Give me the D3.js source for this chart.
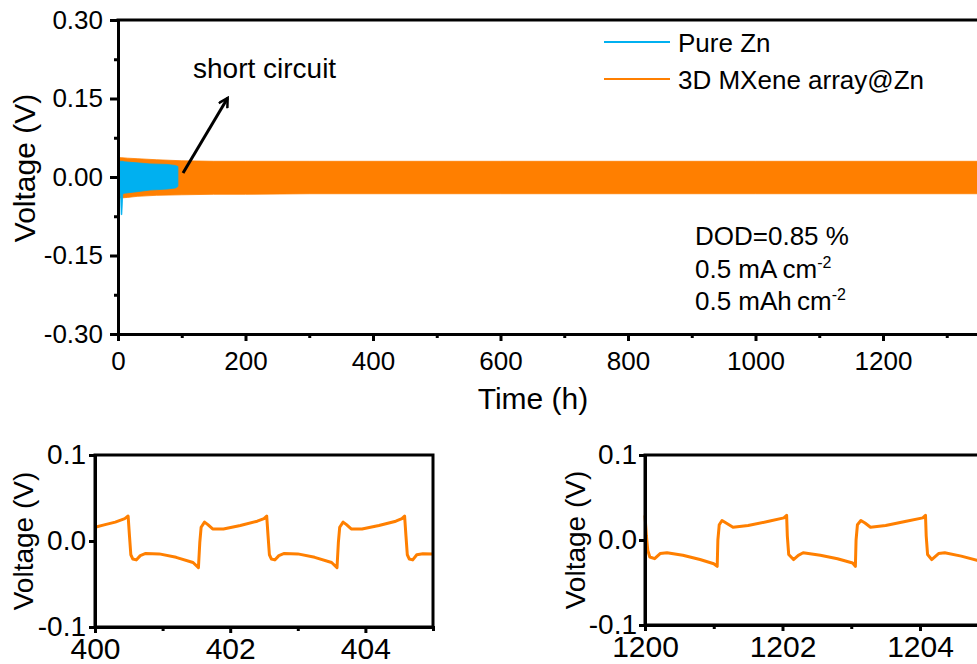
<!DOCTYPE html>
<html>
<head>
<meta charset="utf-8">
<script src="https://cdn.jsdelivr.net/npm/d3@7"></script>
<style>
  html, body { margin: 0; padding: 0; background: #fff; }
  svg { display: block; font-family: "Liberation Sans", Arial, sans-serif; }
  .axis path, .axis line { stroke: #000; }
  .axis text { fill: #000; }
</style>
</head>
<body>
<svg id="chart" width="977" height="664"></svg>
<script>
// ---------------- DATA ----------------
// Main panel: envelopes of the dense voltage oscillation (V) vs time (h)
const orangeTime  = [0, 5, 15, 30, 60, 100, 150, 200, 300, 400, 600, 800, 1000, 1200, 1400];
const orangeUpper = [0.037, 0.037, 0.036, 0.035, 0.033, 0.031, 0.030, 0.030, 0.030, 0.030, 0.030, 0.030, 0.030, 0.030, 0.030];
const orangeLower = [-0.040, -0.040, -0.039, -0.037, -0.035, -0.034, -0.033, -0.033, -0.032, -0.032, -0.032, -0.032, -0.032, -0.032, -0.032];

const blueTime  = [2, 4, 5, 6, 7.5, 10, 30, 50, 77, 90, 94];
const blueUpper = [0.030, 0.030, 0.030, 0.030, 0.030, 0.029, 0.027, 0.025, 0.024, 0.022, 0.020];
const blueLower = [-0.032, -0.032, -0.072, -0.072, -0.032, -0.031, -0.028, -0.025, -0.023, -0.021, -0.018];

const mainYTicks = [-0.30, -0.15, 0.00, 0.15, 0.30];
const mainYMinor = [-0.225, -0.075, 0.075, 0.225];
const mainXTicks = [0, 200, 400, 600, 800, 1000, 1200];
const mainXMinor = [100, 300, 500, 700, 900, 1100, 1300];

// Inset 1 (400-405 h)
const inset1Time = [400.00,400.15,400.30,400.44,400.49,400.51,400.53,400.56,400.61,400.67,400.75,400.95,401.20,401.45,401.53,
  401.55,401.57,401.62,401.67,401.74,401.90,402.15,402.40,402.50,402.54,402.56,402.58,402.61,402.66,402.72,402.80,403.00,
  403.25,403.50,403.58,403.60,403.62,403.67,403.72,403.79,403.95,404.20,404.45,404.54,404.58,404.60,404.62,404.65,404.70,
  404.76,404.85,405.00];
const inset1Volt = [0.016,0.019,0.022,0.026,0.029,0.006,-0.016,-0.021,-0.022,-0.017,-0.0145,-0.015,-0.019,-0.025,-0.031,
  -0.002,0.016,0.022,0.019,0.014,0.014,0.018,0.023,0.026,0.029,0.006,-0.016,-0.021,-0.022,-0.017,-0.0145,-0.015,
  -0.019,-0.025,-0.031,-0.002,0.016,0.022,0.019,0.014,0.014,0.018,0.023,0.026,0.029,0.006,-0.016,-0.021,-0.022,
  -0.016,-0.0148,-0.015];

// Inset 2 (1200-1205 h)
const inset2Time = [1200.00,1200.02,1200.04,1200.07,1200.14,1200.22,1200.32,1200.55,1200.80,1201.00,1201.05,1201.06,1201.08,
  1201.12,1201.18,1201.28,1201.50,1201.80,1202.02,1202.06,1202.07,1202.09,1202.16,1202.23,1202.30,1202.55,1202.80,1203.02,
  1203.06,1203.07,1203.09,1203.14,1203.20,1203.28,1203.50,1203.80,1204.04,1204.08,1204.09,1204.11,1204.17,1204.27,1204.36,
  1204.60,1204.83,1205.00];
const inset2Volt = [0.029,0.005,-0.012,-0.020,-0.022,-0.016,-0.015,-0.018,-0.023,-0.028,-0.031,0.000,0.018,
  0.023,0.020,0.015,0.017,0.022,0.026,0.029,0.005,-0.017,-0.023,-0.018,-0.015,-0.018,-0.022,-0.027,
  -0.031,0.000,0.018,0.023,0.020,0.015,0.017,0.022,0.026,0.029,0.005,-0.017,-0.023,-0.016,-0.015,
  -0.019,-0.024,-0.027];

const insetYTicks = [-0.1, 0.0, 0.1];
const inset1XTicks = [400, 402, 404];
const inset1XMinor = [401, 403];
const inset2XTicks = [1200, 1202, 1204];
const inset2XMinor = [1201, 1203, 1205];

const seriesNames = ["Pure Zn", "3D MXene array@Zn"];
const COLORS = { blue: "#00B0F0", orange: "#FF7F00" };

// ---------------- DRAW ----------------
const svg = d3.select("#chart");

function styleAxis(g, fontSize, width) {
  g.attr("class", "axis");
  g.selectAll("path").attr("stroke-width", width);
  g.selectAll("line").attr("stroke-width", width);
  g.selectAll("text").attr("font-size", fontSize).attr("font-family", '"Liberation Sans", Arial, sans-serif');
}

// ---- Main panel ----
const mX = d3.scaleLinear().domain([0, 1360]).range([118, 118 + 1360 * 0.6375]);
const mY = d3.scaleLinear().domain([-0.30, 0.30]).range([334, 20]);

const main = svg.append("g");

const orangeData = orangeTime.map((t, i) => ({ t, hi: orangeUpper[i], lo: orangeLower[i] }));
const blueData = blueTime.map((t, i) => ({ t, hi: blueUpper[i], lo: blueLower[i] }));
const band = d3.area().x(d => mX(d.t)).y0(d => mY(d.lo)).y1(d => mY(d.hi));

main.append("path").datum(orangeData).attr("d", band).attr("fill", COLORS.orange)
  .attr("stroke", COLORS.orange).attr("stroke-width", 0.8);
main.append("path").datum(blueData).attr("d", band).attr("fill", COLORS.blue)
  .attr("stroke", COLORS.blue).attr("stroke-width", 0.8);

// axes
const fmt2 = d => d.toFixed(2);
main.append("g").attr("transform", "translate(118,0)")
  .call(d3.axisLeft(mY).tickValues(mainYMinor).tickSize(4).tickFormat(""))
  .call(g => styleAxis(g, 26, 3));
main.append("g").attr("transform", "translate(118,0)")
  .call(d3.axisLeft(mY).tickValues(mainYTicks).tickSize(8).tickSizeOuter(0).tickPadding(7).tickFormat(fmt2))
  .call(g => styleAxis(g, 26, 3));
main.append("g").attr("transform", "translate(0,334)")
  .call(d3.axisBottom(mX).tickValues(mainXMinor).tickSize(4).tickFormat(""))
  .call(g => styleAxis(g, 26, 3));
main.append("g").attr("transform", "translate(0,334)")
  .call(d3.axisBottom(mX).tickValues(mainXTicks).tickSize(7).tickSizeOuter(0).tickPadding(11).tickFormat(d3.format("d")))
  .call(g => styleAxis(g, 26, 3));
main.append("line").attr("x1", mX.range()[0] - 1.5).attr("x2", mX.range()[1]).attr("y1", 20).attr("y2", 20)
  .attr("stroke", "#000").attr("stroke-width", 3);

// titles
main.append("text").attr("x", 533).attr("y", 409).attr("text-anchor", "middle")
  .attr("font-size", 30).text("Time (h)");
main.append("text").attr("transform", "translate(35,168) rotate(-90)").attr("text-anchor", "middle")
  .attr("font-size", 30).text("Voltage (V)");

// legend
const legend = main.append("g");
[COLORS.blue, COLORS.orange].forEach((c, i) => {
  const yy = 42 + i * 37;
  legend.append("line").attr("x1", 604).attr("x2", 670).attr("y1", yy).attr("y2", yy)
    .attr("stroke", c).attr("stroke-width", 2);
  legend.append("text").attr("x", 678).attr("y", yy + 10).attr("font-size", 26).text(seriesNames[i]);
});

// annotations
main.append("text").attr("x", 193).attr("y", 78).attr("font-size", 28).text("short circuit");
svg.append("defs").append("marker").attr("id", "arr").attr("viewBox", "0 0 12 12")
  .attr("refX", 10).attr("refY", 6).attr("markerWidth", 12).attr("markerHeight", 12)
  .attr("markerUnits", "userSpaceOnUse").attr("orient", "auto")
  .append("path").attr("d", "M1,1 L10,6 L1,11").attr("fill", "none").attr("stroke", "#000").attr("stroke-width", 2.5);
main.append("line").attr("x1", mX(102)).attr("y1", mY(0.0076)).attr("x2", mX(172)).attr("y2", mY(0.151))
  .attr("stroke", "#000").attr("stroke-width", 3).attr("marker-end", "url(#arr)");

const note = main.append("g").attr("font-size", 26);
note.append("text").attr("x", 695).attr("y", 245).text("DOD=0.85 %");
const n2 = note.append("text").attr("x", 695).attr("y", 278);
n2.append("tspan").text("0.5 mA\u2009cm");
n2.append("tspan").attr("font-size", 16).attr("dy", -10).text("-2");
const n3 = note.append("text").attr("x", 695).attr("y", 310);
n3.append("tspan").text("0.5 mAh\u2009cm");
n3.append("tspan").attr("font-size", 16).attr("dy", -10).text("-2");

// ---- Insets ----
function drawInset(cfg) {
  const g = svg.append("g");
  const x = d3.scaleLinear().domain(cfg.xDomain).range(cfg.xRange);
  const y = d3.scaleLinear().domain([-0.1, 0.1]).range(cfg.yRange);
  const data = cfg.time.map((t, i) => ({ t, v: cfg.volt[i] }));
  g.append("path").datum(data)
    .attr("d", d3.line().x(d => x(d.t)).y(d => y(d.v)))
    .attr("fill", "none").attr("stroke", COLORS.orange).attr("stroke-width", 3).attr("stroke-linejoin", "round");
  // frame
  g.append("rect").attr("x", cfg.xRange[0]).attr("y", cfg.yRange[1])
    .attr("width", cfg.xRange[1] - cfg.xRange[0]).attr("height", cfg.yRange[0] - cfg.yRange[1])
    .attr("fill", "none").attr("stroke", "#000").attr("stroke-width", 3);
  g.append("g").attr("transform", `translate(${cfg.xRange[0]},0)`)
    .call(d3.axisLeft(y).tickValues(insetYTicks).tickSize(6).tickSizeOuter(0).tickPadding(cfg.yPad).tickFormat(d => d.toFixed(1)))
    .call(a => styleAxis(a, 28, 3));
  g.append("g").attr("transform", `translate(0,${cfg.yRange[0]})`)
    .call(d3.axisBottom(x).tickValues(cfg.minor).tickSize(4).tickFormat(""))
    .call(a => styleAxis(a, 30, 3));
  g.append("g").attr("transform", `translate(0,${cfg.yRange[0]})`)
    .call(d3.axisBottom(x).tickValues(cfg.ticks).tickSize(6).tickSizeOuter(0).tickPadding(5).tickFormat(d3.format("d")))
    .call(a => styleAxis(a, 30, 3));
  g.append("text").attr("transform", `translate(${cfg.titleX},${(cfg.yRange[0] + cfg.yRange[1]) / 2}) rotate(-90)`)
    .attr("text-anchor", "middle").attr("font-size", 28).text("Voltage (V)");
}

drawInset({ xDomain: [400, 405], xRange: [95, 433], yRange: [627, 455], time: inset1Time, volt: inset1Volt,
  ticks: inset1XTicks, minor: inset1XMinor, yPad: 3, titleX: 33 });
drawInset({ xDomain: [1200, 1205], xRange: [645, 645 + 5 * 68.75], yRange: [625, 455], time: inset2Time, volt: inset2Volt,
  ticks: inset2XTicks, minor: inset2XMinor, yPad: 2, titleX: 585 });
</script>
</body>
</html>
